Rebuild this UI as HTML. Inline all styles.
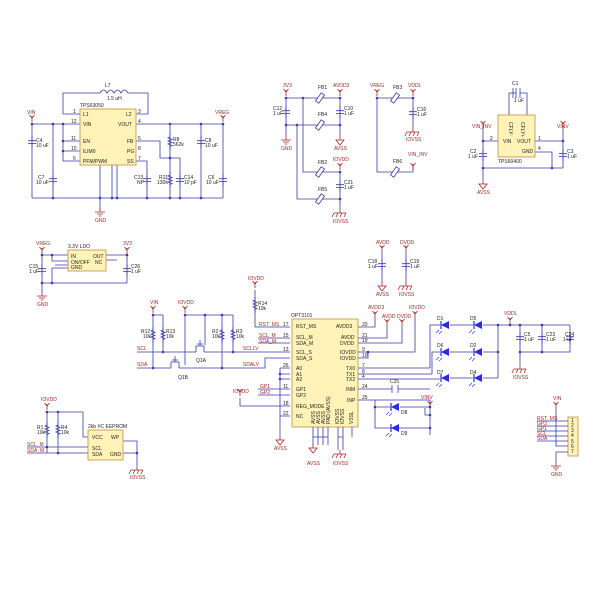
<!DOCTYPE html>
<html><head><meta charset="utf-8"><style>
html,body{margin:0;padding:0;background:#fff}
svg{display:block}
text{font-family:"Liberation Sans",sans-serif;font-size:5px;fill:#222}
.r{fill:#a02828}
.w{stroke:#3a3aa8;stroke-width:0.8;fill:none}
.ic{fill:#fff3b8;stroke:#c89a50;stroke-width:0.9}
.p{stroke:#a02828;stroke-width:0.8;fill:none}
.d{fill:#3a3aa8}
</style></head><body>
<svg width="600" height="600" viewBox="0 0 600 600" xmlns="http://www.w3.org/2000/svg">
<defs>
<g id="cap"><path class="w" d="M0,-6V-1.3M-4,-1.3H4M-4,1.7Q0,0.8 4,1.7M0,1.5V6"/></g>
<g id="res"><path class="w" d="M0,-8V-5L-2,-4L2,-2.5L-2,-1L2,0.5L-2,2L2,3.5L0,4.5V8"/></g>
<g id="fb"><rect x="-2" y="-5" width="4" height="10" transform="rotate(35)" fill="#fff" stroke="#3a3aa8" stroke-width="0.8"/></g>
<g id="gnd"><path class="p" d="M0,-4V0M-5,0H5M-3,2H3M-1.3,4H1.3"/></g>
<g id="agnd"><path class="p" d="M0,-4V0M-4,0H4L0,5Z"/></g>
<g id="iognd"><path class="p" d="M0,-4V0M-6,0H6M-6,0L-8,4M-2,0L-4,4M2,0L0,4M6,0L4,4"/></g>
<g id="pwr"><path class="p" d="M0,6V0M-2.5,-1L0,2L2.5,-1"/></g>
<g id="dio"><path d="M-4,-4V4L4,0Z" fill="#2a2ae0" transform="scale(-1,1)"/><path stroke="#2a2ae0" stroke-width="1.2" d="M-4,-4V4"/><path stroke="#2a2ae0" stroke-width="0.6" d="M-6,5L-9,8M-3,6L-6,9"/></g>
<g id="dot"><circle r="1.3" class="d"/></g>
</defs>

<!-- ===== TPS63050 block ===== -->
<path class="w" d="M63,114V93H100M128,93H148V114H136M63,114H80M32,124H80M63,124V161H80M63,141H80M63,151H80
M136,124H223M136,141H160V158H170M136,161H147V198M170,124V198M170,158H180V198M201,124V198M223,124V198
M32,124V198M53,124V198M32,198H223M100,165V210M112,165V198M117,165V198"/>
<path class="w" d="M100,93q3.5,-6 7,0q3.5,-6 7,0q3.5,-6 7,0q3.5,-6 7,0"/>
<text x="105" y="87">L7</text><text x="107" y="100">1.5 uH</text>
<rect class="ic" x="80" y="109" width="56" height="56"/>
<text x="80" y="107">TPS63050</text>
<text x="83" y="116">L1</text><text x="83" y="126">VIN</text><text x="83" y="143">EN</text><text x="83" y="153">ILIM0</text><text x="83" y="163">PFM/PWM</text>
<text x="126" y="116">L2</text><text x="118" y="126">VOUT</text><text x="127" y="143">FB</text><text x="127" y="153">PG</text><text x="127" y="163">SS</text>
<text x="73" y="113">1</text><text x="71" y="123">12</text><text x="71" y="140">11</text><text x="71" y="150">10</text><text x="73" y="160">6</text>
<text x="138" y="113">3</text><text x="138" y="123">4</text><text x="138" y="140">5</text><text x="138" y="150">8</text><text x="138" y="160">7</text>
<use href="#pwr" x="32" y="116"/><text class="r" x="27" y="114">VIN</text>
<use href="#pwr" x="223" y="116"/><text class="r" x="215" y="114">VREG</text>
<use href="#cap" x="32" y="142"/><text x="36" y="142">C4</text><text x="36" y="147">10 uF</text>
<use href="#cap" x="53" y="180"/><text x="38" y="179">C7</text><text x="36" y="184">10 uF</text>
<use href="#cap" x="201" y="142"/><text x="205" y="142">C8</text><text x="205" y="147">10 uF</text>
<use href="#cap" x="223" y="180"/><text x="208" y="179">C6</text><text x="206" y="184">10 uF</text>
<use href="#cap" x="147" y="180"/><text x="134" y="179">C13</text><text x="137" y="184">NP</text>
<use href="#cap" x="180" y="180"/><text x="184" y="179">C14</text><text x="184" y="184">10 pF</text>
<use href="#res" x="170" y="142"/><text x="173" y="141">R8</text><text x="173" y="146">562k</text>
<use href="#res" x="170" y="180"/><text x="159" y="179">R11</text><text x="157" y="184">130k</text>
<use href="#gnd" x="100" y="212"/><text class="r" x="95" y="222">GND</text>
<use href="#dot" x="32" y="124"/><use href="#dot" x="53" y="124"/><use href="#dot" x="63" y="124"/><use href="#dot" x="63" y="141"/><use href="#dot" x="63" y="151"/>
<use href="#dot" x="170" y="124"/><use href="#dot" x="201" y="124"/><use href="#dot" x="223" y="124"/><use href="#dot" x="170" y="158"/>
<use href="#dot" x="53" y="198"/><use href="#dot" x="100" y="198"/><use href="#dot" x="112" y="198"/><use href="#dot" x="117" y="198"/><use href="#dot" x="147" y="198"/><use href="#dot" x="170" y="198"/><use href="#dot" x="180" y="198"/><use href="#dot" x="201" y="198"/>

<!-- ===== Ferrite beads ===== -->
<path class="w" d="M286,98H340M286,98V136M286,125H340M340,98V136M303,98V172H340M297,125V199H340M340,172V210M340,199V210
M377,98H413M377,98V172H413M413,98V128M413,172V165"/>
<use href="#fb" x="320" y="98"/><use href="#fb" x="320" y="125"/><use href="#fb" x="320" y="172"/><use href="#fb" x="320" y="199"/>
<use href="#fb" x="395" y="98"/><use href="#fb" x="395" y="172"/>
<text x="318" y="89">FB1</text><text x="318" y="116">FB4</text><text x="318" y="164">FB2</text><text x="318" y="191">FB5</text><text x="393" y="89">FB3</text><text x="393" y="163">FB6</text>
<use href="#pwr" x="286" y="90"/><text class="r" x="283" y="87">3V3</text>
<use href="#pwr" x="340" y="90"/><text class="r" x="333" y="87">AVDD3</text>
<use href="#pwr" x="340" y="164"/><text class="r" x="333" y="161">IOVDD</text>
<use href="#pwr" x="377" y="90"/><text class="r" x="370" y="87">VREG</text>
<use href="#pwr" x="413" y="90"/><text class="r" x="408" y="87">VDDL</text>
<use href="#pwr" x="413" y="164"/><text class="r" x="408" y="156">VIN_INV</text>
<use href="#cap" x="286" y="112"/><text x="273" y="110">C12</text><text x="273" y="115">1 uF</text>
<use href="#cap" x="340" y="112"/><text x="344" y="110">C10</text><text x="344" y="115">1 uF</text>
<use href="#cap" x="340" y="186"/><text x="344" y="184">C21</text><text x="344" y="189">1 uF</text>
<use href="#cap" x="413" y="113"/><text x="417" y="111">C16</text><text x="417" y="116">1 uF</text>
<use href="#gnd" x="286" y="140"/><text class="r" x="281" y="150">GND</text>
<use href="#agnd" x="340" y="140"/><text class="r" x="334" y="150">AVSS</text>
<use href="#iognd" x="340" y="213"/><text class="r" x="333" y="223">IOVSS</text>
<use href="#iognd" x="413" y="132"/><text class="r" x="406" y="141">IOVSS</text>
<use href="#dot" x="286" y="98"/><use href="#dot" x="303" y="98"/><use href="#dot" x="340" y="98"/><use href="#dot" x="286" y="125"/><use href="#dot" x="297" y="125"/><use href="#dot" x="340" y="125"/>
<use href="#dot" x="340" y="172"/><use href="#dot" x="340" y="199"/><use href="#dot" x="377" y="98"/><use href="#dot" x="413" y="98"/>

<!-- ===== TPS60400 ===== -->
<path class="w" d="M509,115V93H513M523,93H527V115M483,141H498M483,128V168M535,141H563M563,128V168M535,152H552V168M483,168H563M483,168V180"/>
<path class="w" d="M513,88V98M513,93H516M520,93H523M516,88V98M520,88V98"/>
<text x="512" y="85">C1</text><text x="514" y="102">1 uF</text>
<rect class="ic" x="498" y="115" width="37" height="42"/>
<text x="503" y="143">VIN</text><text x="517" y="143">VOUT</text><text x="522" y="153">GND</text>
<text transform="translate(509,122) rotate(90)">CFLY-</text><text transform="translate(521,122) rotate(90)">CFLY+</text>
<text x="498" y="163">TPS60400</text>
<text x="490" y="140">2</text><text x="538" y="140">1</text><text x="538" y="150">4</text>
<use href="#pwr" x="483" y="122"/><text class="r" x="472" y="128">VIN_INV</text>
<use href="#pwr" x="563" y="122"/><text class="r" x="557" y="128">VINV</text>
<use href="#cap" x="483" y="155"/><text x="470" y="153">C2</text><text x="468" y="158">1 uF</text>
<use href="#cap" x="563" y="155"/><text x="567" y="153">C3</text><text x="567" y="158">1 uF</text>
<use href="#agnd" x="483" y="184"/><text class="r" x="477" y="194">AVSS</text>
<use href="#dot" x="483" y="141"/><use href="#dot" x="563" y="141"/><use href="#dot" x="483" y="168"/><use href="#dot" x="552" y="168"/>

<!-- ===== LDO ===== -->
<path class="w" d="M42,255H68M42,255V283M52,255V261H68M55,265H68V262M52,268H68M52,268V283M106,255H127M127,255V283M106,260H117M42,283H127M42,283V292"/>
<rect class="ic" x="68" y="250" width="38" height="21"/>
<text x="68" y="248">3.3V LDO</text>
<text x="71" y="258">IN</text><text x="71" y="264">ON/OFF</text><text x="71" y="269">GND</text><text x="93" y="258">OUT</text><text x="95" y="264">NC</text>
<use href="#pwr" x="42" y="248"/><text class="r" x="36" y="245">VREG</text>
<use href="#pwr" x="127" y="248"/><text class="r" x="123" y="245">3V3</text>
<use href="#cap" x="42" y="270"/><text x="29" y="268">C15</text><text x="29" y="273">1 uF</text>
<use href="#cap" x="127" y="270"/><text x="131" y="268">C26</text><text x="131" y="273">1 uF</text>
<use href="#gnd" x="42" y="296"/><text class="r" x="37" y="306">GND</text>
<use href="#dot" x="42" y="255"/><use href="#dot" x="52" y="255"/><use href="#dot" x="127" y="255"/><use href="#dot" x="42" y="283"/><use href="#dot" x="52" y="283"/>

<!-- ===== AVDD / DVDD caps ===== -->
<path class="w" d="M382,252V282M406,252V282"/>
<use href="#pwr" x="382" y="246"/><text class="r" x="376" y="244">AVDD</text>
<use href="#pwr" x="406" y="246"/><text class="r" x="400" y="244">DVDD</text>
<use href="#cap" x="382" y="265"/><text x="368" y="263">C18</text><text x="368" y="268">1 uF</text>
<use href="#cap" x="406" y="265"/><text x="410" y="263">C19</text><text x="410" y="268">1 uF</text>
<use href="#agnd" x="382" y="286"/><text class="r" x="376" y="296">AVSS</text>
<use href="#iognd" x="406" y="286"/><text class="r" x="399" y="296">IOVSS</text>

<!-- ===== EEPROM ===== -->
<path class="w" d="M47,412H83V437H88M47,412V453M58,412V453M27,447H88M27,453H88M123,441H137V453M123,453H137V466"/>
<rect class="ic" x="88" y="430" width="35" height="30"/>
<text x="88" y="428">2kb I²C EEPROM</text>
<text x="92" y="439">VCC</text><text x="111" y="439">WP</text><text x="92" y="450">SCL</text><text x="92" y="456">SDA</text><text x="110" y="456">GND</text>
<use href="#pwr" x="47" y="404"/><text class="r" x="41" y="401">IOVDD</text>
<use href="#res" x="47" y="430"/><text x="37" y="429">R1</text><text x="37" y="434">10k</text>
<use href="#res" x="58" y="430"/><text x="61" y="429">R4</text><text x="61" y="434">10k</text>
<text class="r" x="27" y="446">SCL_M</text><text class="r" x="27" y="452">SDA_M</text>
<use href="#iognd" x="137" y="470"/><text class="r" x="130" y="479">IOVSS</text>
<use href="#dot" x="47" y="412"/><use href="#dot" x="58" y="412"/><use href="#dot" x="47" y="447"/><use href="#dot" x="58" y="453"/><use href="#dot" x="137" y="453"/>

<!-- ===== Level shifter & OPT3101 left ===== -->
<path class="w" d="M137,352H196M204,352H290M137,368H171M179,368H265V358H290M153,315H163M153,315V368M163,315V352M185,315H233M185,315V365M205,315V345M222,315V368M233,315V352
M255,290V327H290M258,338H290M258,343H290M280,368H290M280,368V436M280,374H290M280,379H290M258,389H290M258,395H290M240,398V406H290M280,416H290"/>
<path class="w" d="M196,352V346H204V352M200,346V340M171,368V362H179V368M175,362V356"/>
<path class="w" d="M197,344H203M172,360H178"/>
<use href="#res" x="153" y="335"/><text x="141" y="333">R12</text><text x="143" y="338">10k</text>
<use href="#res" x="163" y="335"/><text x="166" y="333">R13</text><text x="166" y="338">10k</text>
<use href="#res" x="222" y="335"/><text x="212" y="333">R2</text><text x="212" y="338">10k</text>
<use href="#res" x="233" y="335"/><text x="236" y="333">R3</text><text x="236" y="338">10k</text>
<use href="#res" x="255" y="305"/><text x="258" y="305">R14</text><text x="258" y="310">10k</text>
<use href="#pwr" x="153" y="307"/><text class="r" x="150" y="304">VIN</text>
<use href="#pwr" x="185" y="307"/><text class="r" x="178" y="304">IOVDD</text>
<use href="#pwr" x="255" y="282"/><text class="r" x="248" y="280">IOVDD</text>
<use href="#pwr" x="240" y="390"/><text class="r" x="233" y="393">IOVDD</text>
<text class="r" x="137" y="350">SCL</text><text class="r" x="137" y="366">SDA</text>
<text class="r" x="243" y="350">SCLLV</text><text class="r" x="243" y="366">SDALV</text>
<text x="196" y="362">Q1A</text><text x="178" y="379">Q1B</text>
<text class="r" x="259" y="326">RST_MS</text><text class="r" x="259" y="337">SCL_M</text><text class="r" x="259" y="343">SDA_M</text>
<text class="r" x="260" y="388">GP1</text><text class="r" x="260" y="394">GP2</text>
<use href="#agnd" x="280" y="440"/><text class="r" x="274" y="450">AVSS</text>
<use href="#dot" x="153" y="315"/><use href="#dot" x="185" y="315"/><use href="#dot" x="205" y="315"/><use href="#dot" x="222" y="315"/>
<use href="#dot" x="163" y="352"/><use href="#dot" x="233" y="352"/><use href="#dot" x="153" y="368"/><use href="#dot" x="222" y="368"/><use href="#dot" x="280" y="374"/><use href="#dot" x="280" y="379"/>

<!-- OPT3101 -->
<rect class="ic" x="292" y="319" width="66" height="108"/>
<text x="291" y="317">OPT3101</text>
<text x="296" y="328">RST_MS</text><text x="296" y="339">SCL_M</text><text x="296" y="345">SDA_M</text><text x="296" y="354">SCL_S</text><text x="296" y="360">SDA_S</text>
<text x="296" y="370">A0</text><text x="296" y="376">A1</text><text x="296" y="381">A2</text><text x="296" y="391">GP1</text><text x="296" y="397">GP2</text><text x="296" y="408">REG_MODE</text><text x="296" y="418">NC</text>
<text x="336" y="328">AVDD3</text><text x="341" y="339">AVDD</text><text x="340" y="345">DVDD</text><text x="340" y="354">IOVDD</text><text x="340" y="360">IOVDD</text>
<text x="346" y="370">TX0</text><text x="346" y="376">TX1</text><text x="346" y="381">TX2</text><text x="346" y="391">INM</text><text x="347" y="402">INP</text>
<text transform="translate(315,424) rotate(-90)">AVSS</text><text transform="translate(320,424) rotate(-90)">AVSS</text><text transform="translate(325,424) rotate(-90)">AVSS</text><text transform="translate(330,424) rotate(-90)">PAD (AVSS)</text>
<text transform="translate(339,424) rotate(-90)">IOVSS</text><text transform="translate(344,424) rotate(-90)">IOVSS</text><text transform="translate(353,424) rotate(-90)">VSSL</text>
<text x="283" y="326">17</text><text x="283" y="337">15</text><text x="283" y="351">13</text><text x="283" y="367">26</text><text x="283" y="388">11</text><text x="283" y="405">18</text><text x="283" y="415">22</text>
<text x="362" y="326">20</text><text x="362" y="337">21</text><text x="362" y="342">19</text><text x="362" y="351">9</text><text x="362" y="357">10</text><text x="362" y="367">7</text><text x="362" y="373">8</text><text x="362" y="378">4</text><text x="362" y="388">24</text><text x="362" y="399">25</text>
<path class="w" d="M313,427V445M318,427V445M323,427V445M328,427V445M313,437H328M338,427V450M343,427V450M338,437H343M352,427V437"/>
<use href="#agnd" x="313" y="448"/><text class="r" x="307" y="465">AVSS</text>
<use href="#iognd" x="340" y="454"/><text class="r" x="333" y="465">IOVSS</text>

<!-- right side of OPT3101 -->
<path class="w" d="M358,327H375V318M358,338H387V326M358,343H402V326M358,352H415V318M358,358H368V352M358,368H430M358,374H432M358,379H434M358,389H392M398,389H430M358,400H430V435M375,400V428H430M375,407H390M400,407H430M375,428H390M400,428H430
M430,368V325H440M432,374V352H440M434,379H440M450,325H473M483,325H498M450,352H473M483,352H498M450,378H473M483,378H498M498,325V378M498,325H570M570,325V352H520M520,325V355M542,325V352M430,415H425V408M520,352V365"/>
<path class="w" d="M392,385V393M398,385V393"/>
<text x="390" y="383">C25</text>
<use href="#dio" x="445" y="325"/><use href="#dio" x="478" y="325"/><use href="#dio" x="445" y="352"/><use href="#dio" x="478" y="352"/><use href="#dio" x="445" y="378"/><use href="#dio" x="478" y="378"/>
<use href="#dio" x="395" y="407"/><use href="#dio" x="395" y="428"/>
<text x="437" y="320">D1</text><text x="470" y="320">D5</text><text x="437" y="347">D6</text><text x="470" y="347">D2</text><text x="437" y="374">D7</text><text x="470" y="374">D4</text>
<text x="401" y="414">D8</text><text x="401" y="435">D9</text>
<use href="#pwr" x="375" y="312"/><text class="r" x="368" y="309">AVDD3</text>
<use href="#pwr" x="387" y="320"/><text class="r" x="382" y="318">AVDD</text>
<use href="#pwr" x="402" y="320"/><text class="r" x="397" y="318">DVDD</text>
<use href="#pwr" x="415" y="312"/><text class="r" x="409" y="309">IOVDD</text>
<use href="#pwr" x="430" y="402"/><text class="r" x="421" y="399">VINV</text>
<use href="#pwr" x="510" y="318"/><text class="r" x="504" y="315">VDDL</text>
<use href="#cap" x="520" y="338"/><text x="524" y="336">C5</text><text x="524" y="341">1 uF</text>
<use href="#cap" x="542" y="338"/><text x="546" y="336">C23</text><text x="546" y="341">1 uF</text>
<use href="#cap" x="570" y="338"/><text x="565" y="336">C24</text><text x="563" y="341">1 uF</text>
<use href="#iognd" x="520" y="369"/><text class="r" x="513" y="379">IOVSS</text>
<use href="#dot" x="368" y="352"/><use href="#dot" x="375" y="407"/><use href="#dot" x="430" y="407"/><use href="#dot" x="430" y="428"/><use href="#dot" x="430" y="415"/>
<use href="#dot" x="498" y="325"/><use href="#dot" x="498" y="352"/><use href="#dot" x="510" y="325"/><use href="#dot" x="520" y="325"/><use href="#dot" x="542" y="325"/><use href="#dot" x="520" y="352"/><use href="#dot" x="542" y="352"/>

<!-- connector -->
<rect class="ic" x="568" y="417" width="10" height="39"/>
<text x="571" y="422">1</text><text x="571" y="427">2</text><text x="571" y="432">3</text><text x="571" y="437">4</text><text x="571" y="443">5</text><text x="571" y="448">6</text><text x="571" y="453">7</text>
<path class="w" d="M537,421H568M537,426H568M537,431H568M537,436H568M537,441H568M556,409V446H568M556,452H568M556,452V462"/>
<text class="r" x="537" y="420">RST_MS</text><text class="r" x="537" y="425">GP2</text><text class="r" x="537" y="430">GP1</text><text class="r" x="537" y="435">SCL</text><text class="r" x="537" y="440">SDA</text>
<use href="#pwr" x="556" y="403"/><text class="r" x="553" y="400">VIN</text>
<use href="#gnd" x="556" y="466"/><text class="r" x="551" y="476">GND</text>
</svg>
</body></html>
